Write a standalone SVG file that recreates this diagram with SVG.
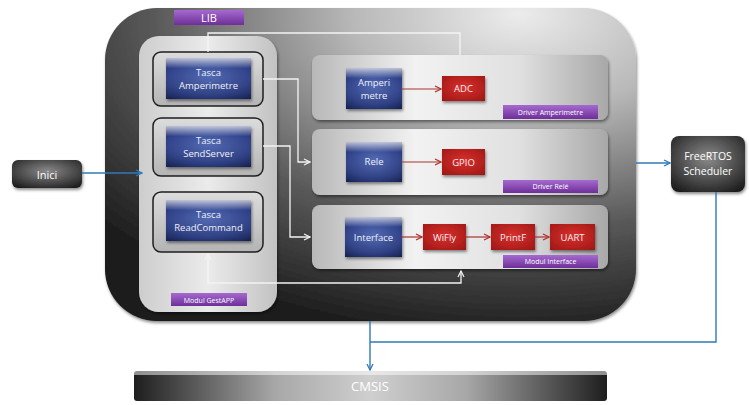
<svg xmlns="http://www.w3.org/2000/svg" width="749" height="405" viewBox="0 0 749 405">
  <defs>
    <radialGradient id="gMain" cx="0.78" cy="0.02" r="1.05" fx="0.78" fy="0.02">
      <stop offset="0" stop-color="#ececec"/>
      <stop offset="0.3" stop-color="#b8b8b8"/>
      <stop offset="0.65" stop-color="#5a5a5a"/>
      <stop offset="1" stop-color="#1a1a1a"/>
    </radialGradient>
    <linearGradient id="gLeftPanel" x1="0" y1="0" x2="1" y2="0">
      <stop offset="0" stop-color="#cdcdcd"/>
      <stop offset="0.5" stop-color="#ebebeb"/>
      <stop offset="1" stop-color="#c2c2c2"/>
    </linearGradient>
    <linearGradient id="gPanel" x1="0" y1="0" x2="1" y2="0">
      <stop offset="0" stop-color="#b8b8b8"/>
      <stop offset="0.35" stop-color="#f2f2f2"/>
      <stop offset="0.7" stop-color="#e0e0e0"/>
      <stop offset="1" stop-color="#a8a8a8"/>
    </linearGradient>
    <linearGradient id="gShine" x1="0" y1="0" x2="0" y2="1">
      <stop offset="0" stop-color="#fff" stop-opacity="0.7"/>
      <stop offset="0.25" stop-color="#fff" stop-opacity="0"/>
      <stop offset="1" stop-color="#000" stop-opacity="0.1"/>
    </linearGradient>
    <radialGradient id="gBlue" cx="0.5" cy="0.45" r="0.7">
      <stop offset="0" stop-color="#4f68b2"/>
      <stop offset="0.7" stop-color="#2e4088"/>
      <stop offset="1" stop-color="#1c2860"/>
    </radialGradient>
    <radialGradient id="gRed" cx="0.5" cy="0.45" r="0.7">
      <stop offset="0" stop-color="#d8302c"/>
      <stop offset="1" stop-color="#a01816"/>
    </radialGradient>
    <linearGradient id="gPurple" x1="0" y1="0" x2="0" y2="1">
      <stop offset="0" stop-color="#a56ad0"/>
      <stop offset="1" stop-color="#6e2f98"/>
    </linearGradient>
    <linearGradient id="gTasca" x1="0" y1="0" x2="0" y2="1">
      <stop offset="0" stop-color="#dcdcdc"/>
      <stop offset="1" stop-color="#b4b4b4"/>
    </linearGradient>
    <radialGradient id="gDark" cx="0.5" cy="0.4" r="0.75">
      <stop offset="0" stop-color="#8a8a8a"/>
      <stop offset="0.6" stop-color="#444"/>
      <stop offset="1" stop-color="#151515"/>
    </radialGradient>
    <linearGradient id="gCmsis" x1="0" y1="0" x2="1" y2="0">
      <stop offset="0" stop-color="#1e1e1e"/>
      <stop offset="0.3" stop-color="#a8a8a8"/>
      <stop offset="0.5" stop-color="#cfcfcf"/>
      <stop offset="0.7" stop-color="#a8a8a8"/>
      <stop offset="1" stop-color="#1e1e1e"/>
    </linearGradient>
    <filter id="shadow" x="-10%" y="-10%" width="120%" height="130%">
      <feDropShadow dx="1" dy="2" stdDeviation="1.5" flood-color="#000" flood-opacity="0.45"/>
    </filter>
    <marker id="aWhite" markerWidth="8" markerHeight="8" refX="7" refY="4" orient="auto-start-reverse" markerUnits="userSpaceOnUse">
      <path d="M1,1 L7,4 L1,7" fill="none" stroke="#f2f2f2" stroke-width="1.2"/>
    </marker>
    <marker id="aRed" markerWidth="8" markerHeight="8" refX="7" refY="4" orient="auto" markerUnits="userSpaceOnUse">
      <path d="M1,1 L7,4 L1,7" fill="none" stroke="#b03028" stroke-width="1.2"/>
    </marker>
    <marker id="aBlue" markerWidth="8" markerHeight="8" refX="7" refY="4" orient="auto" markerUnits="userSpaceOnUse">
      <path d="M1,1 L7,4 L1,7" fill="none" stroke="#2f7ab8" stroke-width="1.3"/>
    </marker>
  </defs>
  <style>
    text { font-family: "Open Sans", "Liberation Sans", sans-serif; fill: #ffffff; text-anchor: middle; }
    .blue { fill: url(#gBlue); filter: url(#shadow); }
    .red { fill: url(#gRed); filter: url(#shadow); }
    .tag { fill: url(#gPurple); }
    .shine { fill: url(#gShine); }
    .tasca { fill: url(#gTasca); stroke: #1e1e1e; stroke-width: 1.5; }
    .panel { fill: url(#gPanel); filter: url(#shadow); }
    .lbl { font-size: 9.5px; fill: #eef0f8; }
    .tagtxt { font-size: 7px; }
    .wline { fill: none; stroke: #f4f4f4; stroke-width: 1.3; }
    .rline { fill: none; stroke: #a8342c; stroke-width: 1.2; }
    .bline { fill: none; stroke: #2f7ab8; stroke-width: 1.4; }
  </style>

  <!-- outer LIB container -->
  <g id="lib">
    <rect x="105" y="8" width="531" height="313" rx="52" fill="url(#gMain)" filter="url(#shadow)"/>
    <rect x="174" y="10" width="70" height="15" class="tag"/>
    <text x="209" y="22" font-size="11">LIB</text>
  </g>

  <!-- application module -->
  <g id="modul-gestapp">
    <rect x="139" y="36" width="138" height="276" rx="20" fill="url(#gLeftPanel)" filter="url(#shadow)"/>
    <rect x="171" y="293" width="76" height="13" class="tag"/>
    <text x="209" y="302.5" class="tagtxt">Modul GestAPP</text>
  </g>

  <g id="tasca-amperimetre">
    <rect x="153" y="52" width="110" height="54" rx="8" class="tasca"/>
    <rect x="166" y="58" width="85" height="41" class="blue"/>
    <rect x="166" y="58" width="85" height="41" class="shine"/>
    <text x="208.5" y="76" class="lbl">Tasca</text>
    <text x="208.5" y="89" class="lbl">Amperimetre</text>
  </g>

  <g id="tasca-sendserver">
    <rect x="153" y="118" width="110" height="58" rx="8" class="tasca"/>
    <rect x="166" y="126" width="85" height="41" class="blue"/>
    <rect x="166" y="126" width="85" height="41" class="shine"/>
    <text x="208.5" y="144" class="lbl">Tasca</text>
    <text x="208.5" y="157" class="lbl">SendServer</text>
  </g>

  <g id="tasca-readcommand">
    <rect x="153" y="192" width="110" height="60" rx="8" class="tasca"/>
    <rect x="166" y="200" width="85" height="41" class="blue"/>
    <rect x="166" y="200" width="85" height="41" class="shine"/>
    <text x="208.5" y="218" class="lbl">Tasca</text>
    <text x="208.5" y="231" class="lbl">ReadCommand</text>
  </g>

  <!-- drivers -->
  <g id="driver-amperimetre">
    <rect x="312" y="55" width="296" height="65" rx="8" class="panel"/>
    <rect x="346" y="68" width="56" height="41" class="blue"/>
    <rect x="346" y="68" width="56" height="41" class="shine"/>
    <text x="374" y="86" class="lbl">Amperi</text>
    <text x="374" y="99" class="lbl">metre</text>
    <rect x="442" y="76" width="43" height="25" class="red"/>
    <text x="463.5" y="92" class="lbl">ADC</text>
    <rect x="503" y="105" width="95" height="14" class="tag"/>
    <text x="550.5" y="114.5" class="tagtxt">Driver Amperimetre</text>
  </g>

  <g id="driver-rele">
    <rect x="312" y="129" width="296" height="66" rx="8" class="panel"/>
    <rect x="346" y="142" width="56" height="40" class="blue"/>
    <rect x="346" y="142" width="56" height="40" class="shine"/>
    <text x="374" y="165" class="lbl">Rele</text>
    <rect x="442" y="149" width="43" height="26" class="red"/>
    <text x="463.5" y="165.5" class="lbl">GPIO</text>
    <rect x="503" y="180" width="95" height="13" class="tag"/>
    <text x="550.5" y="189" class="tagtxt">Driver Relé</text>
  </g>

  <g id="modul-interface">
    <rect x="312" y="205" width="296" height="64" rx="8" class="panel"/>
    <rect x="345" y="217" width="57" height="40" class="blue"/>
    <rect x="345" y="217" width="57" height="40" class="shine"/>
    <text x="373.5" y="240.5" class="lbl">Interface</text>
    <rect x="423" y="224" width="43" height="26" class="red"/>
    <text x="444.5" y="240.5" class="lbl">WiFly</text>
    <rect x="491" y="224" width="44" height="26" class="red"/>
    <text x="513" y="240.5" class="lbl">PrintF</text>
    <rect x="550" y="224" width="45" height="26" class="red"/>
    <text x="572.5" y="240.5" class="lbl">UART</text>
    <rect x="503" y="255" width="95" height="13" class="tag"/>
    <text x="550.5" y="264" class="tagtxt">Modul Interface</text>
  </g>

  <!-- external blocks -->
  <g id="inici">
    <rect x="12" y="160" width="70" height="28" rx="6" fill="url(#gDark)" filter="url(#shadow)"/>
    <text x="47" y="178.5" font-size="11">Inici</text>
  </g>

  <g id="freertos">
    <rect x="671" y="136" width="74" height="56" rx="8" fill="url(#gDark)" filter="url(#shadow)"/>
    <text x="708" y="160" font-size="10.5">FreeRTOS</text>
    <text x="708" y="175" font-size="10.5">Scheduler</text>
  </g>

  <g id="cmsis">
    <rect x="134" y="371" width="473" height="30" rx="3" fill="url(#gCmsis)"/>
    <rect x="134" y="371" width="473" height="4" fill="#fff" opacity="0.5"/>
    <text x="370" y="391" font-size="13" fill="#ececec">CMSIS</text>
  </g>

  <!-- connectors -->
  <g id="connectors">
    <path class="wline" d="M208,52 V33 H460 V55"/>
    <path class="wline" d="M263,79 H298 V162 H310" marker-end="url(#aWhite)"/>
    <path class="wline" d="M263,146 H290 V237 H310" marker-end="url(#aWhite)"/>
    <path class="wline" d="M208,254 V283 H461 V271" marker-start="url(#aWhite)" marker-end="url(#aWhite)"/>

    <path class="rline" d="M402,89 H441" marker-end="url(#aRed)"/>
    <path class="rline" d="M402,162 H441" marker-end="url(#aRed)"/>
    <path class="rline" d="M402,237 H422" marker-end="url(#aRed)"/>
    <path class="rline" d="M466,237 H490" marker-end="url(#aRed)"/>
    <path class="rline" d="M535,237 H549" marker-end="url(#aRed)"/>

    <path class="bline" d="M82,173 H142" marker-end="url(#aBlue)"/>
    <path class="bline" d="M636,163 H670" marker-end="url(#aBlue)"/>
    <path class="bline" d="M716,192 V342 H370"/>
    <path class="bline" d="M370,321 V370" marker-end="url(#aBlue)"/>
  </g>
</svg>
